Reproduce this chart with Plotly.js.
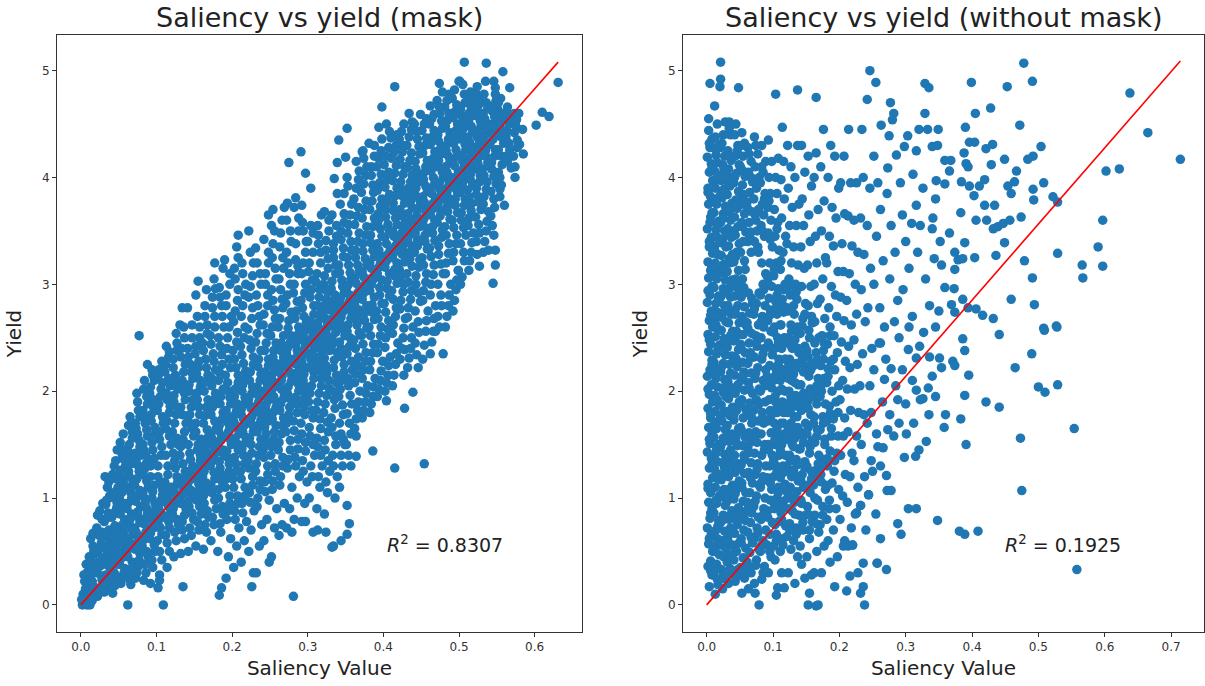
<!DOCTYPE html>
<html>
<head>
<meta charset="utf-8">
<script src="https://cdn.plot.ly/plotly-3.0.1.min.js"></script>
<style>html,body{margin:0;padding:0;background:#fff;}#chart{width:1205px;height:686px;}</style>
</head>
<body>
<div id="chart"></div>
<script>
// ---------- DATA ----------
const panelTitles = ["Saliency vs yield (mask)", "Saliency vs yield (without mask)"];
const xLabel = "Saliency Value";
const yLabel = "Yield";
const r2Values = ["0.8307", "0.1925"];
const xTicksMask = [0, 0.1, 0.2, 0.3, 0.4, 0.5, 0.6];
const xTicksNoMask = [0, 0.1, 0.2, 0.3, 0.4, 0.5, 0.6, 0.7];
const yTicks = [0, 1, 2, 3, 4, 5];
const maskFitX = [0, 0.631];
const maskFitY = [0, 5.08];
const noMaskFitX = [0, 0.714];
const noMaskFitY = [0, 5.09];

// [saliency, yield] pairs, mask model
const maskPoints = [
[.002,0],[.004,.02],[.008,0],[.003,.1],[.006,.15],[.009,.07],[.005,.22],[.008,.3],[.01,.19],[.007,.38],[.011,.45],[.012,0],[.001,.05],
[.013,.1],[.015,.04],[.017,.17],[.012,.26],[.018,.33],[.014,.41],[.019,.48],[.016,.55],[.013,.62],[.016,.67],[.019,.12],[.011,.3],
[.022,.08],[.026,.16],[.028,.23],[.021,.3],[.025,.36],[.029,.44],[.023,.51],[.027,.58],[.024,.65],[.021,.72],[.028,.8],[.025,.88],[.029,.95],[.022,.5],
[.031,.12],[.036,.2],[.033,.28],[.038,.35],[.032,.42],[.035,.5],[.039,.58],[.034,.64],[.037,.7],[.031,.78],[.036,.86],[.033,.94],[.038,1.02],[.035,1.1],[.032,1.2],[.039,.45],
[.042,.11],[.047,.22],[.044,.3],[.049,.38],[.041,.45],[.046,.52],[.043,.6],[.048,.66],[.045,.74],[.041,.82],[.047,.9],[.044,1],[.049,1.1],[.042,1.22],[.046,1.35],[.048,1.45],[.043,.55],
[.053,.2],[.057,.3],[.051,.38],[.055,.46],[.059,.54],[.052,.62],[.056,.7],[.058,.8],[.054,.9],[.051,1],[.057,1.1],[.053,1.2],[.059,1.3],[.055,1.4],[.052,1.52],[.056,1.6],[.058,.6],
[.062,0],[.066,.19],[.063,.28],[.068,.4],[.061,.5],[.065,.58],[.069,.66],[.064,.75],[.067,.85],[.062,.95],[.066,1.05],[.069,1.15],[.063,1.25],[.067,1.38],[.064,1.5],[.068,1.62],[.065,1.76],[.061,1.1],
[.072,.25],[.075,.35],[.078,.48],[.073,.56],[.077,.64],[.071,.72],[.076,.82],[.079,.92],[.074,1.02],[.071,1.12],[.077,1.25],[.073,1.35],[.078,1.48],[.075,1.6],[.072,1.7],[.076,1.82],[.074,1.98],[.077,2.52],[.079,1.4],
[.083,.23],[.086,.3],[.089,.45],[.081,.55],[.085,.65],[.088,.72],[.082,.8],[.087,.9],[.084,1],[.089,1.1],[.081,1.22],[.086,1.32],[.083,1.45],[.088,1.58],[.085,1.7],[.082,1.82],[.087,1.95],[.084,2.1],[.088,2.25],[.086,1.4],
[.092,.2],[.095,.35],[.098,.5],[.091,.62],[.096,.72],[.093,.8],[.099,.9],[.094,1],[.097,1.12],[.092,1.3],[.095,1.45],[.098,1.6],[.093,1.72],[.096,1.85],[.091,1.98],[.097,2.1],[.094,2.2],[.099,.82],
[.102,.16],[.104,.28],[.107,.42],[.101,.6],[.105,.72],[.109,.82],[.103,.9],[.106,.98],[.108,1.08],[.102,1.2],[.106,1.4],[.104,1.55],[.109,1.7],[.101,1.82],[.105,1.95],[.108,2.08],[.103,2.2],[.107,2.28],[.104,.23],
[.109,0],[.114,.35],[.117,.5],[.112,.65],[.116,.78],[.119,.88],[.113,.96],[.118,1.05],[.111,1.15],[.115,1.3],[.119,1.5],[.112,1.65],[.117,1.8],[.114,1.92],[.118,2.05],[.111,2.18],[.116,2.32],[.113,2.42],[.115,1],
[.123,.45],[.126,.6],[.129,.75],[.121,.85],[.125,.95],[.128,1.02],[.122,1.1],[.127,1.2],[.124,1.35],[.129,1.5],[.121,1.62],[.126,1.78],[.123,1.9],[.128,2.02],[.125,2.15],[.122,2.3],[.127,2.45],[.126,2.54],[.124,1.05],
[.135,.17],[.132,.48],[.137,.62],[.134,.78],[.139,.9],[.131,1],[.136,1.08],[.133,1.16],[.138,1.25],[.131,1.4],[.135,1.55],[.139,1.7],[.132,1.85],[.137,1.98],[.134,2.1],[.138,2.25],[.133,2.4],[.136,2.6],[.134,2.78],[.131,2.62],[.139,1.12],
[.142,.5],[.146,.65],[.149,.8],[.143,.92],[.147,1.02],[.141,1.12],[.145,1.2],[.148,1.3],[.144,1.42],[.149,1.58],[.142,1.72],[.146,1.85],[.143,2],[.148,2.12],[.145,2.25],[.141,2.4],[.147,2.62],[.141,2.78],[.144,1.25],
[.152,.55],[.156,.7],[.159,.85],[.153,.98],[.157,1.08],[.151,1.18],[.155,1.26],[.158,1.35],[.154,1.45],[.159,1.55],[.152,1.7],[.156,1.85],[.153,1.98],[.158,2.1],[.155,2.22],[.151,2.35],[.157,2.5],[.154,2.7],[.152,2.9],[.155,3.03],[.158,1.3],
[.162,.52],[.166,.68],[.169,.82],[.163,.95],[.167,1.08],[.161,1.2],[.165,1.3],[.168,1.38],[.164,1.48],[.169,1.58],[.162,1.7],[.166,1.85],[.163,2],[.168,2.15],[.165,2.3],[.161,2.45],[.167,2.62],[.164,2.8],[.166,2.95],[.168,1.42],
[.172,.6],[.176,.75],[.179,.9],[.173,1.05],[.177,1.18],[.171,1.3],[.175,1.38],[.178,1.46],[.174,1.55],[.179,1.65],[.172,1.78],[.176,1.92],[.173,2.05],[.178,2.2],[.175,2.35],[.171,2.52],[.177,2.7],[.174,2.88],[.176,3.05],[.177,3.2],[.173,1.5],
[.183,.09],[.186,.16],[.181,.5],[.185,.68],[.188,.85],[.182,1],[.187,1.15],[.184,1.28],[.189,1.4],[.181,1.5],[.186,1.58],[.183,1.68],[.188,1.8],[.185,1.95],[.182,2.1],[.187,2.25],[.184,2.42],[.189,2.6],[.186,2.8],[.183,2.97],[.188,3.15],[.185,1.45],
[.192,.25],[.195,.45],[.198,.62],[.193,.8],[.197,.95],[.191,1.1],[.196,1.25],[.194,1.38],[.199,1.5],[.192,1.58],[.197,1.66],[.193,1.76],[.198,1.88],[.195,2],[.191,2.15],[.196,2.3],[.194,2.5],[.199,2.7],[.192,2.9],[.197,3.1],[.19,3.23],[.195,1.62],
[.202,.35],[.206,.55],[.209,.72],[.203,.88],[.207,1.02],[.201,1.18],[.205,1.32],[.208,1.45],[.204,1.56],[.209,1.64],[.202,1.72],[.206,1.82],[.203,1.95],[.208,2.08],[.205,2.22],[.201,2.38],[.207,2.55],[.204,2.75],[.208,2.95],[.203,3.15],[.206,3.35],[.209,1.6],
[.212,.4],[.216,.6],[.219,.78],[.213,.95],[.217,1.1],[.211,1.25],[.215,1.4],[.218,1.52],[.214,1.62],[.219,1.7],[.212,1.78],[.216,1.88],[.213,2],[.218,2.12],[.215,2.26],[.211,2.42],[.217,2.6],[.214,2.8],[.218,3],[.213,3.2],[.208,3.46],[.216,1.68],
[.226,.17],[.228,.3],[.222,.5],[.225,.7],[.229,.88],[.223,1.05],[.227,1.2],[.221,1.35],[.225,1.5],[.228,1.62],[.224,1.72],[.229,1.8],[.222,1.88],[.226,1.98],[.223,2.1],[.228,2.25],[.225,2.4],[.221,2.58],[.227,2.78],[.224,2.98],[.228,3.2],[.222,3.5],[.226,1.76],
[.232,.3],[.236,.55],[.239,.75],[.233,.92],[.237,1.08],[.231,1.25],[.235,1.4],[.238,1.55],[.234,1.68],[.239,1.78],[.232,1.86],[.236,1.94],[.233,2.04],[.238,2.16],[.235,2.3],[.231,2.46],[.237,2.62],[.234,2.8],[.238,3],[.233,3.2],[.231,3.34],[.236,1.82],
[.249,.4],[.242,.6],[.246,.8],[.249,.98],[.243,1.15],[.247,1.3],[.241,1.45],[.245,1.6],[.248,1.72],[.244,1.84],[.249,1.92],[.242,2],[.246,2.08],[.243,2.18],[.248,2.3],[.245,2.45],[.241,2.62],[.247,2.8],[.244,3],[.248,3.2],[.242,3.42],[.252,3.55],[.248,3.65],[.246,1.95],
[.252,.45],[.256,.72],[.259,.9],[.253,1.08],[.257,1.25],[.251,1.4],[.255,1.55],[.258,1.68],[.254,1.8],[.259,1.9],[.252,2],[.256,2.08],[.253,2.16],[.258,2.26],[.255,2.38],[.251,2.52],[.257,2.68],[.254,2.85],[.258,3.05],[.253,3.25],[.256,3.5],[.254,3.7],[.255,2.04],
[.262,.65],[.266,.75],[.269,.95],[.263,1.12],[.267,1.3],[.261,1.45],[.265,1.6],[.268,1.75],[.264,1.88],[.269,1.98],[.262,2.06],[.266,2.14],[.263,2.22],[.268,2.32],[.265,2.45],[.261,2.6],[.267,2.78],[.264,2.95],[.268,3.15],[.263,3.35],[.266,3.6],[.269,3.72],[.265,2.1],
[.279,.68],[.272,.72],[.276,.9],[.279,1.1],[.273,1.28],[.277,1.45],[.271,1.62],[.275,1.78],[.278,1.92],[.274,2.04],[.279,2.14],[.272,2.22],[.276,2.3],[.273,2.4],[.278,2.52],[.275,2.66],[.271,2.82],[.277,3],[.274,3.2],[.278,3.4],[.272,3.6],[.273,3.76],[.275,4.14],[.276,2.18],
[.281,.08],[.282,.8],[.286,1],[.289,1.2],[.283,1.38],[.287,1.55],[.281,1.72],[.285,1.88],[.288,2],[.284,2.12],[.289,2.22],[.282,2.3],[.286,2.38],[.283,2.48],[.288,2.6],[.285,2.75],[.281,2.92],[.287,3.1],[.284,3.23],[.288,3.5],[.282,3.72],[.284,3.81],[.286,2.26],
[.292,.78],[.296,.95],[.299,1.15],[.293,1.35],[.297,1.52],[.291,1.7],[.295,1.85],[.298,1.98],[.294,2.1],[.299,2.22],[.292,2.32],[.296,2.4],[.293,2.48],[.298,2.58],[.295,2.7],[.291,2.85],[.297,3],[.294,3.2],[.298,3.4],[.293,3.58],[.292,3.74],[.291,4.24],[.296,2.36],
[.307,.68],[.302,1],[.306,1.2],[.309,1.4],[.303,1.58],[.307,1.75],[.301,1.9],[.305,2.05],[.308,2.18],[.304,2.3],[.309,2.4],[.302,2.48],[.306,2.56],[.303,2.66],[.308,2.8],[.305,2.95],[.301,3.12],[.307,3.3],[.3,3.4],[.304,3.55],[.304,3.9],[.297,4.04],[.306,2.44],[.297,.78],
[.313,.7],[.312,.9],[.316,1.1],[.319,1.3],[.313,1.48],[.317,1.65],[.311,1.82],[.315,1.98],[.318,2.12],[.314,2.26],[.319,2.38],[.312,2.48],[.316,2.56],[.313,2.64],[.318,2.74],[.315,2.88],[.311,3.02],[.317,3.2],[.314,3.38],[.313,3.55],[.318,3.65],[.316,2.52],
[.324,.68],[.322,.85],[.326,1.05],[.329,1.25],[.323,1.45],[.327,1.62],[.321,1.8],[.325,1.96],[.328,2.1],[.324,2.24],[.329,2.38],[.322,2.5],[.326,2.6],[.323,2.68],[.328,2.76],[.325,2.86],[.321,3],[.327,3.15],[.324,3.32],[.328,3.5],[.322,3.68],[.326,2.64],
[.334,.55],[.332,.54],[.336,1],[.339,1.2],[.333,1.4],[.337,1.58],[.331,1.75],[.335,1.92],[.338,2.08],[.334,2.22],[.339,2.36],[.332,2.5],[.336,2.6],[.333,2.68],[.338,2.76],[.335,2.85],[.331,2.96],[.337,3.1],[.334,3.25],[.334,3.32],[.338,3.45],[.332,3.65],[.335,3.99],[.336,2.72],
[.344,.6],[.342,1.1],[.346,1.3],[.349,1.5],[.344,1.6],[.347,1.78],[.341,1.95],[.345,2.1],[.348,2.25],[.344,2.4],[.349,2.52],[.342,2.64],[.346,2.74],[.343,2.82],[.348,2.92],[.345,3.04],[.341,3.18],[.347,3.34],[.344,3.5],[.348,3.66],[.339,3.85],[.339,4.14],[.341,4.35],[.346,2.8],
[.352,.66],[.355,.76],[.352,.93],[.357,1.3],[.351,1.5],[.355,1.7],[.358,1.88],[.354,2.05],[.359,2.2],[.352,2.35],[.356,2.5],[.353,2.62],[.358,2.74],[.355,2.84],[.351,2.94],[.357,3.05],[.354,3.18],[.358,3.32],[.353,3.48],[.356,3.65],[.348,3.85],[.352,4],[.35,4.19],[.352,4.46],[.355,2.9],
[.364,1.39],[.364,1.58],[.362,1.65],[.366,1.82],[.369,2],[.363,2.16],[.367,2.32],[.361,2.48],[.365,2.62],[.368,2.76],[.364,2.86],[.369,2.96],[.362,3.06],[.366,3.18],[.363,3.32],[.368,3.48],[.365,3.64],[.361,3.8],[.367,3.98],[.364,4.15],[.372,4.24],[.366,2.92],
[.372,1.75],[.376,1.9],[.379,2.05],[.373,2.2],[.377,2.36],[.371,2.52],[.375,2.66],[.378,2.8],[.374,2.92],[.379,3.02],[.372,3.12],[.376,3.24],[.373,3.38],[.378,3.54],[.375,3.7],[.371,3.86],[.377,4.02],[.374,4.18],[.381,4.32],[.376,3],
[.386,1.44],[.382,1.8],[.386,1.95],[.389,2.12],[.383,2.28],[.387,2.44],[.381,2.6],[.385,2.74],[.388,2.88],[.384,3],[.389,3.1],[.382,3.2],[.386,3.32],[.383,3.46],[.388,3.62],[.385,3.78],[.386,3.93],[.384,4.1],[.388,4.3],[.398,4.66],[.385,3.06],
[.404,1.91],[.392,1.95],[.396,2.1],[.399,2.28],[.393,2.44],[.397,2.6],[.391,2.75],[.395,2.9],[.398,3.04],[.394,3.16],[.399,3.26],[.392,3.38],[.396,3.52],[.393,3.66],[.398,3.8],[.395,3.95],[.391,4.1],[.397,4.25],[.394,4.47],[.396,3.2],
[.402,2],[.406,2.15],[.409,2.32],[.403,2.5],[.407,2.66],[.401,2.82],[.405,2.96],[.408,3.1],[.404,3.22],[.409,3.32],[.402,3.44],[.406,3.56],[.403,3.7],[.408,3.84],[.405,3.98],[.401,4.12],[.407,4.28],[.41,4.37],[.404,4.5],[.406,3.28],
[.415,1.28],[.428,1.84],[.412,2.05],[.416,2.25],[.419,2.45],[.413,2.62],[.417,2.78],[.411,2.94],[.415,3.08],[.418,3.2],[.414,3.3],[.419,3.4],[.412,3.5],[.416,3.62],[.413,3.76],[.418,3.9],[.415,4.04],[.411,4.18],[.417,4.3],[.415,4.85],[.416,3.36],
[.427,2.15],[.428,2.39],[.422,2.3],[.426,2.5],[.429,2.68],[.423,2.85],[.427,3],[.421,3.14],[.425,3.28],[.428,3.38],[.424,3.48],[.429,3.58],[.422,3.7],[.426,3.82],[.423,3.96],[.428,4.1],[.425,4.24],[.421,4.36],[.427,4.5],[.425,3.44],
[.439,1.99],[.432,2.22],[.436,2.4],[.439,2.6],[.433,2.78],[.437,2.94],[.431,3.1],[.435,3.24],[.438,3.36],[.434,3.46],[.439,3.56],[.432,3.66],[.436,3.78],[.433,3.9],[.438,4.02],[.435,4.16],[.431,4.3],[.437,4.45],[.434,4.6],[.436,3.5],
[.446,2.22],[.442,2.45],[.446,2.65],[.449,2.84],[.443,3],[.447,3.16],[.441,3.3],[.445,3.42],[.448,3.54],[.444,3.64],[.449,3.74],[.442,3.84],[.446,3.96],[.443,4.08],[.448,4.22],[.445,4.36],[.441,4.5],[.449,4.59],[.444,3.6],
[.454,1.32],[.452,2.3],[.456,2.56],[.459,2.75],[.453,2.94],[.457,3.1],[.451,3.25],[.455,3.4],[.458,3.52],[.454,3.62],[.459,3.72],[.452,3.82],[.456,3.92],[.453,4.04],[.458,4.16],[.455,4.3],[.451,4.44],[.457,4.55],[.456,3.68],
[.462,2.35],[.466,2.56],[.469,2.8],[.463,3],[.467,3.18],[.461,3.34],[.465,3.48],[.468,3.6],[.464,3.7],[.469,3.8],[.462,3.9],[.466,4],[.463,4.12],[.468,4.24],[.465,4.38],[.461,4.5],[.467,4.59],[.462,4.67],[.466,3.76],
[.479,2.35],[.469,2.56],[.472,2.7],[.476,2.9],[.479,3.1],[.473,3.28],[.477,3.44],[.471,3.58],[.475,3.7],[.478,3.8],[.474,3.9],[.479,4],[.472,4.1],[.476,4.22],[.473,4.34],[.478,4.46],[.475,4.6],[.471,4.72],[.474,4.88],[.476,3.84],
[.482,2.6],[.486,2.8],[.489,3],[.483,3.2],[.487,3.38],[.481,3.54],[.485,3.68],[.488,3.8],[.484,3.9],[.489,4],[.482,4.1],[.486,4.2],[.483,4.3],[.488,4.42],[.485,4.54],[.481,4.66],[.487,4.78],[.484,3.86],
[.492,2.75],[.496,2.95],[.499,3.13],[.493,3.3],[.497,3.46],[.491,3.6],[.495,3.74],[.498,3.86],[.494,3.96],[.499,4.06],[.492,4.16],[.496,4.26],[.493,4.38],[.498,4.5],[.495,4.62],[.491,4.74],[.5,4.9],[.496,3.92],
[.502,3],[.499,3.13],[.506,3.3],[.509,3.46],[.503,3.6],[.507,3.74],[.501,3.86],[.505,3.96],[.508,4.06],[.504,4.16],[.509,4.26],[.502,4.36],[.506,4.46],[.503,4.58],[.508,4.7],[.505,4.87],[.501,4.9],[.507,5.08],[.505,4.02],
[.513,3.13],[.516,3.3],[.519,3.48],[.513,3.62],[.517,3.76],[.511,3.88],[.515,3.98],[.518,4.08],[.514,4.18],[.519,4.28],[.512,4.38],[.516,4.48],[.513,4.6],[.518,4.72],[.515,4.8],[.516,4.12],
[.527,3.17],[.523,3.4],[.526,3.56],[.529,3.7],[.523,3.84],[.527,3.96],[.521,4.08],[.525,4.18],[.528,4.28],[.524,4.38],[.529,4.48],[.522,4.58],[.526,4.68],[.523,4.78],[.524,4.85],[.526,4.22],
[.539,3.32],[.532,3.3],[.536,3.5],[.539,3.68],[.533,3.82],[.537,3.96],[.531,4.08],[.535,4.2],[.538,4.3],[.534,4.4],[.539,4.5],[.532,4.6],[.536,4.7],[.535,4.9],[.536,5.07],[.534,4.26],
[.545,3.01],[.548,3.18],[.548,3.32],[.546,3.46],[.542,3.64],[.546,3.8],[.549,3.94],[.543,4.08],[.547,4.2],[.541,4.32],[.545,4.42],[.548,4.52],[.544,4.62],[.549,4.72],[.548,4.78],[.546,4.9],[.545,4.36],
[.554,3.82],[.554,3.89],[.556,3.93],[.552,4.05],[.556,4.2],[.559,4.32],[.553,4.44],[.557,4.54],[.551,4.64],[.555,4.74],[.558,4.99],[.554,4.48],
[.56,3.74],[.569,4.09],[.562,4.2],[.566,4.32],[.563,4.44],[.567,4.56],[.564,4.66],[.567,4.84],
[.574,4],[.572,4.2],[.577,4.35],[.575,4.48],[.573,4.6],
[.585,4.22],[.58,4.31],[.584,4.45],[.579,4.6],[.602,4.49],[.61,4.61],[.619,4.57],[.631,4.89]
];

// more points of the mask model, read from the solid core of the cloud
const maskPointsCore = [
[.006,.06],[.004,.28],[.015,.22],[.018,.08],[.014,.36],[.017,.5],
[.024,.12],[.027,.27],[.023,.4],[.026,.54],[.028,.68],[.022,.84],
[.034,.16],[.037,.24],[.033,.38],[.036,.54],[.032,.66],[.038,.82],[.034,.98],[.037,1.15],
[.045,.18],[.048,.26],[.043,.42],[.047,.48],[.042,.64],[.046,.7],[.044,.86],[.048,.95],[.043,1.05],[.047,1.18],[.044,1.3],
[.054,.25],[.058,.34],[.052,.42],[.056,.5],[.053,.58],[.057,.66],[.055,.75],[.052,.85],[.058,.95],[.054,1.05],[.056,1.15],[.052,1.26],[.057,1.36],[.054,1.46],
[.064,.24],[.067,.34],[.062,.45],[.066,.54],[.063,.62],[.068,.7],[.065,.8],[.061,.9],[.067,1],[.064,1.2],[.066,1.32],[.062,1.44],[.068,1.56],[.063,1.68],
[.074,.3],[.077,.42],[.072,.52],[.076,.6],[.073,.68],[.078,.77],[.075,.87],[.072,.97],[.078,1.07],[.074,1.18],[.076,1.3],[.072,1.42],[.077,1.54],[.073,1.65],[.078,1.76],[.075,1.9],
[.084,.38],[.087,.5],[.082,.6],[.086,.68],[.083,.76],[.088,.85],[.085,.95],[.082,1.05],[.087,1.16],[.084,1.27],[.089,1.36],[.082,1.5],[.087,1.64],[.084,1.76],[.088,1.88],[.083,2.02],
[.094,.42],[.097,.56],[.092,.67],[.096,.76],[.093,.85],[.098,.95],[.095,1.06],[.092,1.2],[.097,1.37],[.094,1.52],[.098,1.66],[.093,1.78],[.096,1.92],[.092,2.04],[.095,2.15],
[.104,.5],[.107,.66],[.102,.77],[.106,.86],[.103,.94],[.108,1.03],[.105,1.14],[.102,1.3],[.107,1.48],[.104,1.62],[.108,1.76],[.103,1.88],[.106,2.02],[.102,2.14],
[.114,.58],[.117,.72],[.112,.83],[.116,.92],[.113,1.01],[.118,1.1],[.115,1.22],[.112,1.4],[.117,1.58],[.114,1.72],[.118,1.86],[.113,1.98],[.116,2.12],[.112,2.25],[.117,2.37],
[.124,.68],[.127,.8],[.122,.9],[.126,.98],[.123,1.06],[.128,1.15],[.125,1.28],[.122,1.42],[.127,1.56],[.124,1.7],[.128,1.84],[.123,1.96],[.126,2.08],[.122,2.22],[.127,2.38],
[.134,.7],[.137,.84],[.132,.95],[.136,1.04],[.133,1.12],[.138,1.2],[.135,1.32],[.132,1.48],[.137,1.62],[.134,1.78],[.138,1.92],[.133,2.04],[.136,2.18],[.132,2.32],[.137,2.5],
[.144,.72],[.147,.86],[.142,.97],[.146,1.07],[.143,1.16],[.148,1.25],[.145,1.36],[.142,1.5],[.147,1.65],[.144,1.78],[.148,1.92],[.143,2.06],[.146,2.18],[.142,2.32],[.147,2.5],
[.154,.78],[.157,.92],[.152,1.03],[.156,1.13],[.153,1.22],[.158,1.4],[.155,1.5],[.152,1.62],[.157,1.78],[.154,1.92],[.158,2.04],[.153,2.16],[.156,2.28],[.152,2.42],[.157,2.6],
[.164,.75],[.167,.88],[.162,1.02],[.166,1.14],[.163,1.25],[.168,1.34],[.165,1.43],[.162,1.53],[.167,1.64],[.164,1.77],[.168,1.92],[.163,2.08],[.166,2.22],[.162,2.38],[.167,2.54],[.164,2.7],
[.174,.82],[.177,.98],[.172,1.12],[.176,1.24],[.173,1.34],[.178,1.42],[.175,1.5],[.172,1.6],[.177,1.72],[.174,1.85],[.178,1.98],[.173,2.12],[.176,2.28],[.172,2.44],[.177,2.6],[.174,2.78],[.178,2.96],
[.184,.76],[.187,.92],[.182,1.08],[.186,1.22],[.183,1.34],[.188,1.45],[.185,1.54],[.182,1.63],[.187,1.74],[.184,1.88],[.188,2.02],[.183,2.18],[.186,2.34],[.182,2.5],[.187,2.7],[.184,2.88],
[.194,.88],[.197,1.02],[.192,1.18],[.196,1.32],[.193,1.44],[.198,1.54],[.195,1.7],[.192,1.82],[.197,1.94],[.194,2.08],[.198,2.22],[.193,2.4],[.196,2.6],[.192,2.8],[.197,3],
[.204,.8],[.207,.95],[.202,1.1],[.206,1.25],[.203,1.38],[.208,1.5],[.205,1.68],[.202,1.77],[.207,1.88],[.204,2.02],[.208,2.15],[.203,2.3],[.206,2.46],[.202,2.65],[.207,2.85],[.204,3.05],[.208,3.25],
[.214,.86],[.217,1.02],[.212,1.18],[.216,1.32],[.213,1.46],[.218,1.57],[.215,1.74],[.212,1.83],[.217,1.94],[.214,2.06],[.218,2.19],[.213,2.34],[.216,2.5],[.212,2.7],[.217,2.9],[.214,3.1],
[.224,.96],[.227,1.12],[.222,1.28],[.226,1.42],[.223,1.56],[.228,1.67],[.225,1.84],[.222,1.93],[.227,2.04],[.224,2.18],[.228,2.32],[.223,2.48],[.226,2.68],[.222,2.88],[.227,3.08],[.224,3.3],
[.234,1],[.237,1.16],[.232,1.32],[.236,1.48],[.233,1.62],[.238,1.73],[.235,1.9],[.232,1.98],[.237,2.1],[.234,2.23],[.238,2.38],[.233,2.54],[.236,2.7],[.232,2.9],[.237,3.1],
[.244,1.06],[.247,1.22],[.242,1.38],[.246,1.52],[.243,1.66],[.248,1.78],[.245,1.88],[.242,1.96],[.247,2.04],[.244,2.13],[.248,2.24],[.243,2.38],[.246,2.54],[.242,2.72],[.247,2.9],[.244,3.1],[.248,3.3],
[.254,1.16],[.257,1.32],[.252,1.48],[.256,1.62],[.253,1.74],[.258,1.85],[.255,1.95],[.252,2.12],[.257,2.21],[.254,2.32],[.258,2.45],[.253,2.6],[.256,2.76],[.252,2.95],[.257,3.15],[.254,3.38],
[.264,1.2],[.267,1.38],[.262,1.52],[.266,1.68],[.263,1.82],[.268,1.93],[.265,2.02],[.262,2.18],[.267,2.27],[.264,2.38],[.268,2.52],[.263,2.68],[.266,2.86],[.262,3.05],[.267,3.25],[.264,3.48],
[.274,1.36],[.277,1.54],[.272,1.7],[.276,1.85],[.273,1.98],[.278,2.09],[.275,2.26],[.272,2.35],[.277,2.46],[.274,2.59],[.278,2.74],[.273,2.9],[.276,3.1],[.272,3.3],[.277,3.5],
[.284,1.3],[.287,1.46],[.282,1.63],[.286,1.8],[.283,1.94],[.288,2.06],[.285,2.17],[.282,2.26],[.287,2.34],[.284,2.43],[.288,2.54],[.283,2.68],[.286,2.84],[.282,3],[.287,3.17],[.284,3.38],[.288,3.62],
[.294,1.25],[.297,1.44],[.292,1.6],[.296,1.78],[.293,1.92],[.298,2.04],[.295,2.16],[.292,2.27],[.297,2.44],[.294,2.53],[.298,2.64],[.293,2.78],[.296,2.92],[.292,3.1],[.297,3.3],[.294,3.5],
[.304,1.3],[.307,1.5],[.302,1.66],[.306,1.82],[.303,1.98],[.308,2.12],[.305,2.24],[.302,2.35],[.307,2.52],[.304,2.61],[.308,2.72],[.303,2.88],[.306,3.04],[.302,3.2],[.307,3.48],
[.314,1.2],[.317,1.4],[.312,1.56],[.316,1.74],[.313,1.9],[.318,2.05],[.315,2.19],[.312,2.32],[.317,2.43],[.314,2.6],[.318,2.69],[.313,2.8],[.316,2.95],[.312,3.1],[.317,3.3],[.314,3.46],
[.324,1.15],[.327,1.35],[.322,1.54],[.326,1.71],[.323,1.88],[.328,2.03],[.325,2.17],[.322,2.31],[.327,2.44],[.324,2.55],[.328,2.64],[.323,2.81],[.326,2.93],[.322,3.08],[.327,3.24],[.324,3.41],[.328,3.6],
[.334,1.3],[.337,1.5],[.332,1.66],[.336,1.84],[.333,2],[.338,2.15],[.335,2.29],[.332,2.43],[.337,2.55],[.334,2.64],[.338,2.72],[.333,2.8],[.336,2.9],[.332,3.03],[.337,3.18],[.334,3.38],[.338,3.55],
[.344,1.4],[.347,1.55],[.342,1.7],[.346,1.87],[.343,2.02],[.348,2.18],[.345,2.32],[.342,2.46],[.347,2.58],[.344,2.69],[.348,2.78],[.343,2.87],[.346,2.98],[.342,3.11],[.347,3.26],[.344,3.42],[.348,3.58],[.343,3.75],
[.354,1.4],[.357,1.6],[.352,1.79],[.356,1.96],[.353,2.12],[.358,2.28],[.355,2.42],[.352,2.56],[.357,2.68],[.354,2.79],[.358,2.89],[.353,2.99],[.356,3.11],[.352,3.25],[.357,3.4],[.354,3.56],[.358,3.75],[.353,3.92],
[.364,1.74],[.367,1.9],[.362,2.08],[.366,2.24],[.363,2.4],[.368,2.55],[.365,2.69],[.362,2.81],[.367,2.91],[.364,3.01],[.368,3.12],[.363,3.25],[.366,3.4],[.362,3.56],[.367,3.72],[.364,3.9],[.368,4.06],
[.374,1.82],[.377,1.98],[.372,2.12],[.376,2.28],[.373,2.44],[.378,2.59],[.375,2.73],[.372,2.86],[.377,2.97],[.374,3.07],[.378,3.18],[.373,3.31],[.376,3.46],[.372,3.62],[.377,3.78],[.374,3.94],[.378,4.1],[.373,4.25],
[.384,1.88],[.387,2.04],[.382,2.2],[.386,2.36],[.383,2.52],[.388,2.67],[.385,2.81],[.382,2.94],[.387,3.05],[.384,3.15],[.388,3.26],[.383,3.39],[.386,3.54],[.382,3.7],[.387,3.86],[.384,4.02],[.388,4.2],
[.394,2.02],[.397,2.19],[.392,2.36],[.396,2.52],[.393,2.68],[.398,2.82],[.395,2.97],[.392,3.1],[.397,3.21],[.394,3.32],[.398,3.45],[.393,3.59],[.396,3.73],[.392,3.88],[.397,4.03],[.394,4.18],[.398,4.36],
[.404,2.08],[.407,2.24],[.402,2.41],[.406,2.58],[.403,2.74],[.408,2.89],[.405,3.03],[.402,3.16],[.407,3.27],[.404,3.38],[.408,3.5],[.403,3.63],[.406,3.77],[.402,3.91],[.407,4.05],[.404,4.2],[.408,4.43],
[.414,2.15],[.417,2.35],[.412,2.54],[.416,2.7],[.413,2.86],[.418,3.01],[.415,3.14],[.412,3.25],[.417,3.35],[.414,3.45],[.418,3.56],[.413,3.69],[.416,3.83],[.412,3.97],[.417,4.11],[.414,4.24],[.418,4.4],
[.424,2.4],[.427,2.59],[.422,2.77],[.426,2.93],[.423,3.07],[.428,3.21],[.425,3.33],[.422,3.43],[.427,3.53],[.424,3.64],[.428,3.76],[.423,3.89],[.426,4.03],[.422,4.17],[.427,4.3],[.424,4.43],
[.434,2.31],[.437,2.5],[.432,2.69],[.436,2.86],[.433,3.02],[.438,3.17],[.435,3.3],[.432,3.41],[.437,3.51],[.434,3.61],[.438,3.72],[.433,3.84],[.436,3.96],[.432,4.09],[.437,4.23],[.434,4.38],[.438,4.52],
[.444,2.34],[.447,2.55],[.442,2.75],[.446,2.92],[.443,3.08],[.448,3.23],[.445,3.36],[.442,3.48],[.447,3.59],[.444,3.69],[.448,3.79],[.443,3.9],[.446,4.02],[.442,4.15],[.447,4.29],[.444,4.43],
[.454,2.43],[.457,2.66],[.452,2.85],[.456,3.02],[.453,3.18],[.458,3.33],[.455,3.46],[.452,3.57],[.457,3.67],[.454,3.77],[.458,3.87],[.453,3.98],[.456,4.1],[.452,4.23],[.457,4.37],[.454,4.5],
[.464,2.46],[.467,2.68],[.462,2.9],[.466,3.09],[.463,3.26],[.468,3.41],[.465,3.54],[.462,3.65],[.467,3.75],[.464,3.85],[.468,3.95],[.463,4.06],[.466,4.18],[.462,4.31],[.467,4.44],[.464,4.55],
[.474,2.6],[.477,2.8],[.472,3],[.476,3.19],[.473,3.36],[.478,3.51],[.475,3.64],[.472,3.75],[.477,3.85],[.474,3.95],[.478,4.05],[.473,4.16],[.476,4.28],[.472,4.4],[.477,4.53],[.474,4.66],[.478,4.8],
[.484,2.7],[.487,2.9],[.482,3.1],[.486,3.29],[.483,3.46],[.488,3.61],[.485,3.74],[.482,3.85],[.487,3.95],[.484,4.05],[.488,4.15],[.483,4.25],[.486,4.36],[.482,4.48],[.487,4.6],[.484,4.72],
[.494,2.85],[.497,3.04],[.492,3.22],[.496,3.38],[.493,3.53],[.498,3.67],[.495,3.8],[.492,3.91],[.497,4.01],[.494,4.11],[.498,4.21],[.493,4.32],[.496,4.44],[.492,4.56],[.497,4.68],[.494,4.82],
[.504,3.07],[.507,3.22],[.502,3.38],[.506,3.53],[.503,3.67],[.508,3.8],[.505,3.91],[.502,4.01],[.507,4.11],[.504,4.21],[.508,4.31],[.503,4.41],[.506,4.52],[.502,4.64],[.507,4.78],
[.514,3.22],[.517,3.39],[.512,3.55],[.516,3.69],[.513,3.82],[.518,3.93],[.515,4.03],[.512,4.13],[.517,4.23],[.514,4.33],[.518,4.43],[.513,4.54],[.516,4.66],[.512,4.76],
[.524,3.28],[.527,3.48],[.522,3.63],[.526,3.77],[.523,3.9],[.528,4.02],[.525,4.13],[.522,4.23],[.527,4.33],[.524,4.43],[.528,4.53],[.523,4.63],[.526,4.73],
[.534,3.4],[.537,3.59],[.532,3.75],[.536,3.89],[.533,4.02],[.538,4.14],[.535,4.25],[.532,4.35],[.537,4.45],[.534,4.55],[.538,4.65],[.533,4.78],
[.544,3.55],[.547,3.72],[.542,3.87],[.546,4.01],[.543,4.14],[.548,4.26],[.545,4.37],[.542,4.47],[.547,4.57],[.544,4.67],[.548,4.84],
[.554,4],[.557,4.12],[.552,4.26],[.556,4.38],[.553,4.5],[.557,4.6],[.552,4.7],
[.564,4.15],[.567,4.26],[.562,4.38],[.566,4.5],[.563,4.61],
[.574,4.1],[.577,4.28],[.573,4.42],[.576,4.54]
];

// [saliency, yield] pairs, model without mask
const noMaskPoints = [
[.004,.17],[.008,.28],[.002,.36],[.006,.41],[.009,.5],[.003,.57],[.007,.66],[.001,.72],[.005,.81],[.008,.9],[.003,.96],[.006,1.05],[.002,1.13],[.009,1.19],[.004,1.28],[.007,1.37],[.001,1.43],[.005,1.51],[.008,1.6],[.003,1.66],[.006,1.75],[.002,1.84],[.009,1.9],[.004,1.97],[.007,2.06],[.001,2.14],[.005,2.2],[.008,2.29],[.003,2.37],[.006,2.44],[.002,2.53],[.009,2.6],[.004,2.66],[.007,2.75],[.001,2.83],[.005,2.9],[.008,2.98],[.003,3.06],[.006,3.13],[.002,3.21],[.009,3.29],[.004,3.35],[.007,3.44],[.001,3.52],[.005,3.58],[.008,3.67],[.003,3.75],[.006,3.82],[.002,3.9],[.009,3.97],[.004,4.05],[.007,4.13],[.001,4.19],[.005,4.28],[.008,4.36],[.003,4.44],[.005,4.88],
[.013,.1],[.017,.19],[.011,.3],[.015,.38],[.019,.47],[.012,.55],[.016,.62],[.014,.7],[.018,.79],[.011,.86],[.015,.95],[.019,1.02],[.013,1.1],[.017,1.18],[.012,1.27],[.016,1.34],[.014,1.42],[.018,1.5],[.011,1.57],[.015,1.65],[.019,1.73],[.013,1.81],[.017,1.89],[.012,1.96],[.016,2.04],[.014,2.12],[.018,2.2],[.011,2.27],[.015,2.35],[.019,2.43],[.013,2.51],[.017,2.58],[.012,2.66],[.016,2.74],[.014,2.82],[.018,2.89],[.011,2.97],[.015,3.05],[.019,3.13],[.013,3.2],[.017,3.28],[.012,3.36],[.016,3.44],[.014,3.51],[.018,3.59],[.011,3.67],[.015,3.75],[.019,3.82],[.013,3.9],[.017,3.98],[.012,4.06],[.016,4.14],[.014,4.21],[.018,4.3],[.013,4.38],[.012,4.67],[.021,5.08],[.021,4.92],[.02,4.85],
[.024,.15],[.028,.24],[.022,.33],[.026,.45],[.029,.53],[.023,.6],[.027,.69],[.021,.77],[.025,.84],[.028,.93],[.023,1.01],[.026,1.08],[.022,1.17],[.029,1.24],[.024,1.33],[.027,1.41],[.021,1.48],[.025,1.56],[.028,1.64],[.023,1.72],[.026,1.8],[.022,1.87],[.029,1.95],[.024,2.03],[.027,2.11],[.021,2.18],[.025,2.26],[.028,2.34],[.023,2.42],[.026,2.49],[.022,2.57],[.029,2.65],[.024,2.73],[.027,2.8],[.021,2.88],[.025,2.96],[.028,3.04],[.023,3.11],[.026,3.19],[.022,3.27],[.029,3.35],[.024,3.42],[.027,3.5],[.021,3.58],[.025,3.66],[.028,3.73],[.023,3.81],[.026,3.89],[.022,3.97],[.029,4.04],[.024,4.12],[.027,4.2],[.021,4.28],[.025,4.4],[.028,4.52],
[.033,.2],[.037,.29],[.031,.4],[.035,.47],[.039,.56],[.032,.64],[.036,.72],[.034,.8],[.038,.88],[.031,.97],[.035,1.04],[.039,1.12],[.033,1.2],[.037,1.29],[.032,1.37],[.036,1.45],[.034,1.53],[.038,1.6],[.031,1.68],[.035,1.77],[.039,1.85],[.033,1.93],[.037,2],[.032,2.09],[.036,2.17],[.038,2.33],[.031,2.41],[.035,2.48],[.039,2.56],[.033,2.64],[.037,2.72],[.032,2.8],[.036,2.88],[.034,2.96],[.038,3.04],[.031,3.12],[.035,3.2],[.039,3.28],[.033,3.36],[.037,3.44],[.032,3.52],[.036,3.6],[.034,3.68],[.038,3.76],[.031,3.84],[.035,3.92],[.039,4],[.033,4.08],[.037,4.16],[.032,4.25],[.036,4.4],[.034,4.52],
[.043,.22],[.047,.33],[.041,.42],[.045,.5],[.049,.58],[.042,.67],[.046,.75],[.044,.83],[.048,.91],[.041,.99],[.045,1.08],[.049,1.16],[.043,1.24],[.047,1.32],[.042,1.4],[.046,1.49],[.044,1.57],[.048,1.65],[.041,1.73],[.045,1.82],[.049,1.9],[.043,1.98],[.047,2.06],[.042,2.15],[.046,2.23],[.044,2.31],[.048,2.39],[.041,2.47],[.045,2.56],[.049,2.64],[.043,2.72],[.047,2.8],[.042,2.89],[.046,2.97],[.044,3.05],[.048,3.13],[.041,3.21],[.045,3.3],[.049,3.38],[.043,3.46],[.047,3.54],[.042,3.63],[.046,3.71],[.044,3.79],[.048,3.87],[.041,3.95],[.045,4.04],[.049,4.12],[.043,4.2],[.047,4.3],[.042,4.4],[.048,4.84],
[.053,.11],[.057,.25],[.051,.35],[.055,.44],[.059,.53],[.052,.62],[.056,.7],[.058,.79],[.051,.88],[.055,.97],[.059,1.05],[.053,1.14],[.057,1.23],[.052,1.31],[.056,1.4],[.054,1.49],[.058,1.57],[.051,1.66],[.055,1.75],[.059,1.83],[.053,1.92],[.057,2.01],[.052,2.1],[.056,2.18],[.054,2.27],[.058,2.36],[.051,2.44],[.055,2.53],[.059,2.62],[.053,2.7],[.057,2.79],[.052,2.88],[.056,2.97],[.054,3.05],[.058,3.14],[.051,3.3],[.055,3.4],[.059,3.49],[.053,3.58],[.057,3.66],[.052,3.75],[.056,3.84],[.054,3.93],[.058,4.01],[.051,4.1],[.055,4.2],[.057,4.32],[.053,4.42],
[.063,.15],[.067,.3],[.061,.4],[.065,.49],[.069,.58],[.062,.68],[.066,.77],[.068,.86],[.061,.96],[.065,1.05],[.069,1.14],[.063,1.24],[.067,1.33],[.062,1.42],[.066,1.52],[.064,1.61],[.068,1.7],[.061,1.8],[.065,1.89],[.069,1.98],[.063,2.08],[.067,2.17],[.062,2.26],[.066,2.36],[.064,2.45],[.068,2.54],[.061,2.64],[.065,2.73],[.069,2.82],[.063,2.92],[.067,3.3],[.062,3.4],[.066,3.49],[.064,3.58],[.068,3.68],[.061,3.77],[.065,3.86],[.069,3.96],[.063,4.05],[.067,4.15],[.062,4.28],
[.079,0],[.072,.2],[.073,.11],[.075,.42],[.079,.52],[.072,.62],[.076,.72],[.078,.82],[.071,.92],[.075,1.02],[.079,1.12],[.073,1.22],[.077,1.32],[.072,1.42],[.076,1.52],[.074,1.62],[.078,1.72],[.071,1.82],[.075,1.92],[.079,2.02],[.073,2.12],[.077,2.22],[.072,2.32],[.076,2.42],[.074,2.52],[.078,2.62],[.071,2.72],[.075,2.82],[.079,2.92],[.078,3.3],[.072,3.4],[.076,3.5],[.074,3.6],[.078,3.7],[.071,3.8],[.075,3.9],[.079,4],[.073,4.1],[.077,4.22],[.072,4.38],
[.083,.24],[.087,.36],[.081,.5],[.085,.6],[.089,.7],[.082,.8],[.086,.9],[.088,1],[.081,1.1],[.085,1.2],[.089,1.3],[.083,1.4],[.087,1.5],[.082,1.6],[.086,1.7],[.084,1.8],[.088,1.9],[.081,2],[.085,2.1],[.089,2.2],[.083,2.3],[.087,2.4],[.082,2.5],[.086,2.6],[.084,2.7],[.088,2.8],[.081,2.9],[.085,3],[.089,3.1],[.083,3.2],[.087,3.45],[.082,3.55],[.086,3.65],[.084,3.75],[.088,3.85],[.081,3.95],[.085,4.05],[.089,4.15],[.083,4.3],
[.093,.3],[.097,.45],[.091,.56],[.095,.66],[.099,.77],[.092,.88],[.096,.98],[.098,1.08],[.091,1.19],[.095,1.3],[.099,1.4],[.093,1.5],[.097,1.61],[.092,1.72],[.096,1.82],[.094,1.92],[.098,2.03],[.091,2.14],[.095,2.24],[.099,2.34],[.093,2.45],[.097,2.56],[.092,2.66],[.096,2.76],[.094,2.87],[.098,2.98],[.091,3.08],[.095,3.2],[.099,3.35],[.093,3.48],[.097,3.6],[.092,3.72],[.096,3.85],[.094,4],[.098,4.15],[.093,4.35],
[.105,.09],[.107,.16],[.103,.42],[.101,.55],[.105,.66],[.109,.78],[.102,.9],[.106,1],[.108,1.1],[.101,1.2],[.105,1.3],[.109,1.4],[.103,1.5],[.107,1.6],[.102,1.7],[.106,1.8],[.104,1.9],[.108,2],[.101,2.1],[.105,2.2],[.109,2.3],[.103,2.4],[.107,2.5],[.102,2.6],[.106,2.72],[.104,2.84],[.108,2.96],[.101,3.08],[.105,3.2],[.109,3.32],[.103,3.45],[.107,3.58],[.102,3.7],[.106,3.85],[.104,4],[.108,4.18],[.104,4.78],
[.117,.16],[.113,.3],[.111,.5],[.115,.62],[.119,.74],[.112,.86],[.116,.97],[.118,1.08],[.111,1.19],[.115,1.3],[.119,1.4],[.113,1.5],[.117,1.6],[.112,1.7],[.116,1.8],[.114,1.9],[.118,2],[.111,2.1],[.115,2.2],[.119,2.3],[.113,2.4],[.117,2.5],[.112,2.62],[.116,2.74],[.114,2.86],[.118,3],[.111,3.14],[.115,3.3],[.119,3.45],[.113,3.62],[.117,3.8],[.112,3.98],[.116,4.15],[.114,4.47],
[.123,.3],[.127,.52],[.121,.64],[.125,.76],[.129,.88],[.122,1],[.126,1.1],[.128,1.2],[.121,1.3],[.125,1.4],[.129,1.5],[.123,1.6],[.127,1.7],[.122,1.8],[.126,1.9],[.124,2],[.128,2.1],[.121,2.2],[.125,2.3],[.129,2.4],[.123,2.5],[.127,2.62],[.122,2.75],[.126,2.9],[.124,3.05],[.128,3.2],[.121,3.38],[.125,3.55],[.129,3.72],[.123,3.9],[.127,4.1],[.122,4.3],
[.133,.2],[.137,.45],[.131,.6],[.135,.72],[.139,.84],[.132,.96],[.136,1.06],[.138,1.16],[.131,1.26],[.135,1.36],[.139,1.46],[.133,1.56],[.137,1.66],[.132,1.76],[.136,1.86],[.134,1.96],[.138,2.06],[.131,2.16],[.135,2.26],[.139,2.36],[.133,2.48],[.137,2.6],[.132,2.72],[.136,2.86],[.134,3],[.138,3.18],[.131,3.35],[.135,3.55],[.139,3.75],[.133,4],[.137,4.3],[.137,4.82],
[.148,.25],[.143,.38],[.141,.55],[.145,.7],[.149,.84],[.142,.98],[.146,1.1],[.144,1.22],[.148,1.34],[.141,1.46],[.145,1.58],[.149,1.7],[.143,1.82],[.147,1.94],[.142,2.06],[.146,2.18],[.144,2.3],[.148,2.42],[.141,2.54],[.145,2.68],[.149,2.82],[.143,2.98],[.147,3.15],[.142,3.35],[.146,3.55],[.144,3.8],[.148,4.05],[.143,4.3],
[.153,0],[.155,.11],[.158,.28],[.151,.45],[.155,.62],[.159,.78],[.152,.92],[.156,1.05],[.158,1.18],[.151,1.3],[.155,1.42],[.159,1.54],[.153,1.66],[.157,1.78],[.152,1.9],[.156,2.02],[.154,2.14],[.158,2.26],[.151,2.38],[.155,2.5],[.159,2.64],[.153,2.8],[.157,2.98],[.152,3.18],[.156,3.4],[.154,3.65],[.158,3.92],[.153,4.2],
[.165,-.01],[.168,0],[.162,.3],[.166,.5],[.169,.68],[.163,.84],[.167,.98],[.161,1.12],[.165,1.26],[.169,1.4],[.163,1.52],[.167,1.64],[.162,1.76],[.166,1.88],[.164,2],[.168,2.12],[.161,2.24],[.165,2.36],[.169,2.5],[.163,2.65],[.167,2.82],[.162,3],[.166,3.2],[.164,3.45],[.168,3.7],[.162,4],[.165,4.23],[.165,4.75],
[.173,.3],[.177,.55],[.171,.75],[.175,.92],[.179,1.08],[.172,1.22],[.176,1.36],[.178,1.5],[.171,1.64],[.175,1.76],[.179,1.88],[.173,2],[.177,2.12],[.172,2.24],[.176,2.38],[.174,2.52],[.178,2.68],[.171,2.86],[.175,3.05],[.179,3.25],[.173,3.5],[.177,3.78],[.172,4.1],[.176,4.45],
[.186,.4],[.183,.6],[.181,.8],[.185,.98],[.189,1.14],[.182,1.3],[.186,1.44],[.188,1.58],[.181,1.72],[.185,1.86],[.189,2],[.183,2.14],[.187,2.28],[.182,2.44],[.186,2.6],[.184,2.78],[.188,2.98],[.181,3.2],[.185,3.45],[.189,3.72],[.183,4],[.187,4.3],
[.193,.17],[.197,.45],[.191,.7],[.195,.9],[.199,1.08],[.192,1.25],[.196,1.42],[.198,1.58],[.191,1.74],[.195,1.9],[.199,2.05],[.193,2.2],[.197,2.36],[.192,2.52],[.196,2.7],[.194,2.9],[.198,3.12],[.191,3.36],[.195,3.62],[.199,3.9],[.193,4.2],
[.211,.13],[.206,.55],[.201,.8],[.205,1.02],[.209,1.22],[.202,1.4],[.206,1.58],[.208,1.75],[.201,1.92],[.205,2.1],[.209,2.28],[.203,2.46],[.207,2.66],[.202,2.88],[.206,3.12],[.204,3.38],[.208,3.66],[.202,3.95],[.207,4.2],
[.216,.27],[.213,.56],[.218,.72],[.212,.96],[.216,1.2],[.219,1.42],[.213,1.62],[.217,1.82],[.212,2.02],[.216,2.22],[.214,2.42],[.218,2.62],[.211,2.85],[.215,3.1],[.219,3.36],[.213,3.64],[.217,3.95],[.214,4.45],
[.22,.56],[.224,.85],[.228,1.1],[.222,1.35],[.226,1.58],[.229,1.8],[.223,2.02],[.227,2.25],[.222,2.48],[.226,2.72],[.224,3],[.228,3.3],[.222,3.6],[.226,3.95],
[.238,0],[.232,.11],[.236,.17],[.236,.39],[.232,.93],[.226,.86],[.238,1.2],[.233,1.5],[.237,1.78],[.231,2.05],[.235,2.35],[.239,2.65],[.233,2.95],[.237,3.28],[.232,3.62],[.236,4],[.234,4.45],
[.244,1.03],[.248,1.35],[.242,1.7],[.246,2.05],[.249,2.4],[.243,2.78],[.247,3.15],[.242,3.55],[.246,3.9],[.246,5],[.255,4.89],[.242,4.73],[.257,.39],[.271,.33],
[.252,4.2],[.258,3.95],[.262,3.7],[.256,3.45],[.266,3.22],[.252,3],[.261,2.78],[.268,2.6],[.272,3.85],[.278,3.55],[.284,3.3],[.276,3.05],[.288,2.85],[.283,2.65],[.292,3.95],[.295,3.65],[.3,3.4],[.305,3.15],[.296,2.95],[.31,2.7],[.318,3.3],[.322,3.55],[.326,3.9],[.33,3.05],[.336,2.8],[.345,3.8],[.352,3.4],[.32,4.45],[.262,2.45],[.29,2.5],[.305,2.6],[.327,2.55],[.345,2.6],[.35,2.75],
[.248,1.8],[.252,2.2],[.256,1.6],[.26,2.45],[.265,1.9],[.27,2.3],[.276,1.78],[.285,2.05],[.29,1.7],[.295,2.2],[.3,1.88],[.31,2.1],[.312,1.7],[.32,1.45],[.335,1.78],[.345,1.95],[.25,1.25],[.255,.85],[.262,.62],[.24,.7],[.228,.3],
[.263,4.49],[.277,4.7],[.282,4.6],[.28,4.54],[.275,4.39],[.273,4.09],[.286,4.21],[.298,4.29],[.303,4.39],[.316,4.25],[.311,4.03],[.316,3.74],[.309,3.57],[.329,4.6],[.333,4.45],[.349,4.45],[.34,4.29],[.348,4.3],[.329,4.88],[.335,4.84],[.359,4.16],[.368,4.16],[.366,4.06],[.346,3.97],[.359,3.94],[.341,3.62],[.34,3.52],[.366,3.48],[.383,3.67],[.389,3.39],[.374,3.3],[.379,3.23],[.386,3.24],[.404,3.25],[.374,3.14],[.354,3.18],[.343,3.24],[.359,2.97],[.373,2.96],[.386,2.86],[.394,2.78],[.406,2.77],[.416,2.71],[.432,2.68],[.369,2.81],[.374,2.74],[.388,4.23],[.391,4.13],[.394,4.1],[.39,4.47],[.396,4.33],[.404,4.33],[.399,4.89],[.405,4.6],[.428,4.65],[.421,4.27],[.431,4.31],[.449,4.17],[.453,4.85],[.467,4.06],[.464,3.96],[.459,3.85],[.454,3.92],[.429,4.12],[.419,3.98],[.411,3.92],[.403,3.83],[.384,3.96],[.396,3.92],[.419,3.74],[.434,3.74],[.406,3.6],[.422,3.6],[.432,3.52],[.439,3.54],[.447,3.57],[.457,3.6],[.449,3.39],[.436,3.27],[.472,4.49],[.478,5.07],[.491,4.9],[.484,4.17],[.492,4.2],[.504,4.29],[.508,3.95],[.492,3.89],[.493,3.79],[.474,3.63],[.522,3.82],[.529,3.77],[.479,3.22],[.491,3.06],[.494,2.81],[.459,2.86],[.508,2.59],[.527,2.61],[.529,3.29],[.566,3.18],[.597,3.17],[.567,3.06],[.59,3.35],[.597,3.6],[.602,4.06],[.622,4.08],[.638,4.79],[.665,4.42],[.714,4.17],
[.558,.33],[.554,1.65],[.475,1.07],[.473,1.56],[.529,2.06],[.5,2.04],[.51,1.99],[.49,2.35],[.465,2.22],[.509,2.57],[.528,2.6],[.441,2.53],[.441,1.85],[.421,1.9],[.391,1.5],[.383,1.74],[.36,1.78],[.358,1.66],[.389,1.96],[.395,2.15],[.389,2.38],[.386,2.49],[.371,2.28],[.374,2.24],[.331,1.53],[.315,1.39],[.298,1.38],[.301,1.6],[.409,.69],[.389,.66],[.381,.69],[.348,.79],[.316,.9],[.304,.9],[.288,.76],[.293,.66],[.257,.39],[.213,.55],[.22,.56],[.208,.6],[.272,1.07],[.278,1.07],[.244,1.03],[.232,.93],[.226,.86],[.271,1.21],[.262,1.3],[.258,1.48],[.266,1.47],[.273,1.64],[.282,1.58],[.326,1.93],[.334,2.03],[.316,2.01],[.322,1.92],[.351,2.31],[.354,2.22],[.34,2.14],[.336,2.32],[.278,2.21],[.268,2.11],[.288,1.92],[.304,2.39],[.316,2.31],[.321,2.42]
];

// more points of the no-mask model, read from its solid left block
const noMaskPointsCore = [
[.006,.32],[.004,.62],[.006,.86],[.002,1.09],[.008,1.32],[.004,1.55],[.006,1.79],[.002,2.02],[.008,2.25],[.004,2.48],[.006,2.71],[.002,2.94],[.008,3.17],[.004,3.4],[.006,3.63],[.002,3.86],[.008,4.09],[.004,4.32],[.003,4.55],
[.016,.24],[.013,.5],[.017,.74],[.014,.98],[.018,1.22],[.015,1.46],[.012,1.69],[.016,1.92],[.013,2.16],[.017,2.39],[.014,2.62],[.018,2.86],[.015,3.09],[.012,3.32],[.016,3.55],[.013,3.79],[.017,4.02],[.014,4.26],[.016,4.5],
[.025,.28],[.022,.56],[.026,.8],[.023,1.04],[.027,1.28],[.024,1.52],[.021,1.76],[.025,1.99],[.022,2.22],[.026,2.46],[.023,2.69],[.027,2.92],[.024,3.15],[.021,3.39],[.025,3.62],[.022,3.85],[.026,4.08],[.023,4.32],
[.035,.34],[.032,.6],[.036,.84],[.033,1.08],[.037,1.33],[.034,1.57],[.031,1.81],[.035,2.04],[.034,2.25],[.036,2.52],[.033,2.76],[.037,3],[.034,3.24],[.031,3.48],[.035,3.72],[.032,3.96],[.036,4.2],[.034,4.46],
[.045,.27],[.042,.54],[.046,.79],[.043,1.04],[.047,1.28],[.044,1.53],[.041,1.78],[.045,2.02],[.042,2.27],[.046,2.52],[.043,2.76],[.047,3.01],[.044,3.26],[.041,3.5],[.045,3.75],[.042,4],[.046,4.25],[.044,4.5],
[.055,.3],[.052,.58],[.056,.84],[.053,1.1],[.057,1.36],[.054,1.62],[.051,1.88],[.055,2.14],[.052,2.4],[.056,2.66],[.053,2.92],[.057,3.22],[.054,3.54],[.051,3.8],[.055,4.06],[.053,4.3],
[.064,.35],[.067,.63],[.063,.91],[.066,1.19],[.062,1.47],[.068,1.75],[.064,2.03],[.066,2.31],[.062,2.59],[.068,2.87],[.065,3.45],[.061,3.72],[.067,4],[.064,4.22],
[.074,.37],[.077,.67],[.073,.97],[.076,1.27],[.072,1.57],[.078,1.87],[.074,2.17],[.076,2.47],[.072,2.77],[.077,3.35],[.073,3.65],[.076,3.95],[.074,4.3],
[.085,.3],[.082,.55],[.086,.85],[.083,1.15],[.087,1.45],[.084,1.75],[.088,2.05],[.085,2.35],[.082,2.65],[.086,2.95],[.084,3.5],[.087,3.8],[.083,4.1],
[.095,.5],[.092,.82],[.096,1.14],[.093,1.45],[.097,1.77],[.094,2.08],[.098,2.4],[.095,2.71],[.092,3.02],[.096,3.42],[.094,3.78],
[.105,.6],[.102,.95],[.106,1.25],[.103,1.55],[.107,1.85],[.104,2.15],[.108,2.45],[.105,2.78],[.102,3.14],[.106,3.52],
[.115,.56],[.112,.92],[.116,1.24],[.113,1.55],[.117,1.85],[.114,2.15],[.118,2.45],[.115,2.8],[.112,3.22],
[.125,.7],[.122,1.05],[.126,1.35],[.123,1.65],[.127,1.95],[.124,2.25],[.128,2.56],[.125,2.98],
[.135,.66],[.132,1.01],[.136,1.31],[.133,1.61],[.137,1.91],[.134,2.21],[.138,2.54],[.135,2.93],
[.145,.77],[.142,1.16],[.146,1.52],[.143,1.88],[.147,2.24],[.144,2.61],
[.155,.7],[.152,1.12],[.156,1.48],[.153,1.84],[.157,2.2],[.154,2.57],
[.165,.76],[.162,1.19],[.166,1.58],[.163,1.94],[.167,2.3],
[.175,.84],[.172,1.29],[.176,1.7],[.173,2.06],[.177,2.45],
[.185,.9],[.182,1.37],[.186,1.79],[.183,2.21],
[.103,.75],[.108,1.05],[.101,1.35],[.106,1.65],[.103,1.95],[.108,2.25],[.101,2.55],[.106,2.9],
[.113,.8],[.118,1.13],[.111,1.45],[.116,1.7],[.113,2.02],[.118,2.3],[.111,2.62],[.116,2.95],
[.123,.9],[.128,1.25],[.121,1.55],[.126,1.82],[.123,2.12],[.128,2.42],[.121,2.78],
[.133,.85],[.138,1.2],[.131,1.48],[.136,1.76],[.133,2.08],[.138,2.4],[.131,2.8],
[.143,.95],[.148,1.28],[.141,1.62],[.146,1.98],[.143,2.38],[.148,2.72],
[.153,.85],[.158,1.25],[.151,1.6],[.156,1.95],[.153,2.32],[.158,2.7],
[.163,1],[.168,1.32],[.161,1.7],[.166,2.05],[.163,2.45],
[.173,1.15],[.178,1.55],[.171,1.95],[.176,2.3],
[.183,1.12],[.188,1.65],[.181,2.08],[.186,2.52],
[.193,1.35],[.198,1.8],[.191,2.3]
];

// ---------- STYLE / LAYOUT ----------
const FONT = "DejaVu Sans, Liberation Sans, sans-serif";
const BLUE = "#1f77b4";
const AXC = "#333333";

function axisStyle(extra) {
  return Object.assign({
    showline: true, mirror: true, linecolor: AXC, linewidth: 1,
    ticks: "outside", ticklen: 4, tickwidth: 1, tickcolor: AXC,
    tickfont: {family: FONT, size: 12, color: "#333"},
    showgrid: false, zeroline: false, automargin: false
  }, extra);
}

const maskAll = maskPoints.concat(maskPointsCore);
const noMaskAll = noMaskPoints.concat(noMaskPointsCore);

const traces = [
  {type: "scatter", mode: "markers", name: "mask",
   x: maskAll.map(p => p[0]), y: maskAll.map(p => p[1]),
   xaxis: "x", yaxis: "y",
   marker: {size: 9.5, color: BLUE, line: {width: 0}}, hoverinfo: "x+y"},
  {type: "scatter", mode: "lines", name: "fit (mask)",
   x: maskFitX, y: maskFitY, xaxis: "x", yaxis: "y",
   line: {color: "#ff0000", width: 1.6}},
  {type: "scatter", mode: "markers", name: "without mask",
   x: noMaskAll.map(p => p[0]), y: noMaskAll.map(p => p[1]),
   xaxis: "x2", yaxis: "y2",
   marker: {size: 9.5, color: BLUE, line: {width: 0}}, hoverinfo: "x+y"},
  {type: "scatter", mode: "lines", name: "fit (without mask)",
   x: noMaskFitX, y: noMaskFitY, xaxis: "x2", yaxis: "y2",
   line: {color: "#ff0000", width: 1.6}}
];

const yDom = [0.0787, 0.949];
const layout = {
  width: 1205, height: 686,
  margin: {l: 0, r: 0, t: 0, b: 0},
  paper_bgcolor: "#ffffff", plot_bgcolor: "#ffffff",
  showlegend: false,
  font: {family: FONT, color: "#222"},
  xaxis: axisStyle({domain: [0.0473, 0.483], range: [-0.0316, 0.6626],
    tickvals: xTicksMask, ticktext: xTicksMask.map(v => v.toFixed(1)), anchor: "y",
    title: {text: xLabel, font: {family: FONT, size: 20, color: "#222"}, standoff: 7}}),
  yaxis: axisStyle({domain: yDom, range: [-0.254, 5.334], tickvals: yTicks,
    ticktext: yTicks.map(String), anchor: "x",
    title: {text: yLabel, font: {family: FONT, size: 20, color: "#222"}, standoff: 14}}),
  xaxis2: axisStyle({domain: [0.5668, 0.9992], range: [-0.0357, 0.7497],
    tickvals: xTicksNoMask, ticktext: xTicksNoMask.map(v => v.toFixed(1)), anchor: "y2",
    title: {text: xLabel, font: {family: FONT, size: 20, color: "#222"}, standoff: 7}}),
  yaxis2: axisStyle({domain: yDom, range: [-0.254, 5.334], tickvals: yTicks,
    ticktext: yTicks.map(String), anchor: "x2",
    title: {text: yLabel, font: {family: FONT, size: 20, color: "#222"}, standoff: 14}}),
  annotations: [
    {text: panelTitles[0], xref: "paper", yref: "paper", x: 0.265, y: 0.974,
     xanchor: "center", yanchor: "middle", showarrow: false,
     font: {family: FONT, size: 27, color: "#222"}},
    {text: panelTitles[1], xref: "paper", yref: "paper", x: 0.783, y: 0.974,
     xanchor: "center", yanchor: "middle", showarrow: false,
     font: {family: FONT, size: 27, color: "#222"}},
    {text: "<i>R</i><sup>2</sup> = " + r2Values[0], xref: "x", yref: "y",
     x: 0.402, y: 0.57, xanchor: "left", yanchor: "middle", showarrow: false,
     font: {family: FONT, size: 19, color: "#222"}},
    {text: "<i>R</i><sup>2</sup> = " + r2Values[1], xref: "x2", yref: "y2",
     x: 0.446, y: 0.57, xanchor: "left", yanchor: "middle", showarrow: false,
     font: {family: FONT, size: 19, color: "#222"}}
  ]
};

Plotly.newPlot("chart", traces, layout, {displayModeBar: false});
</script>
</body>
</html>
